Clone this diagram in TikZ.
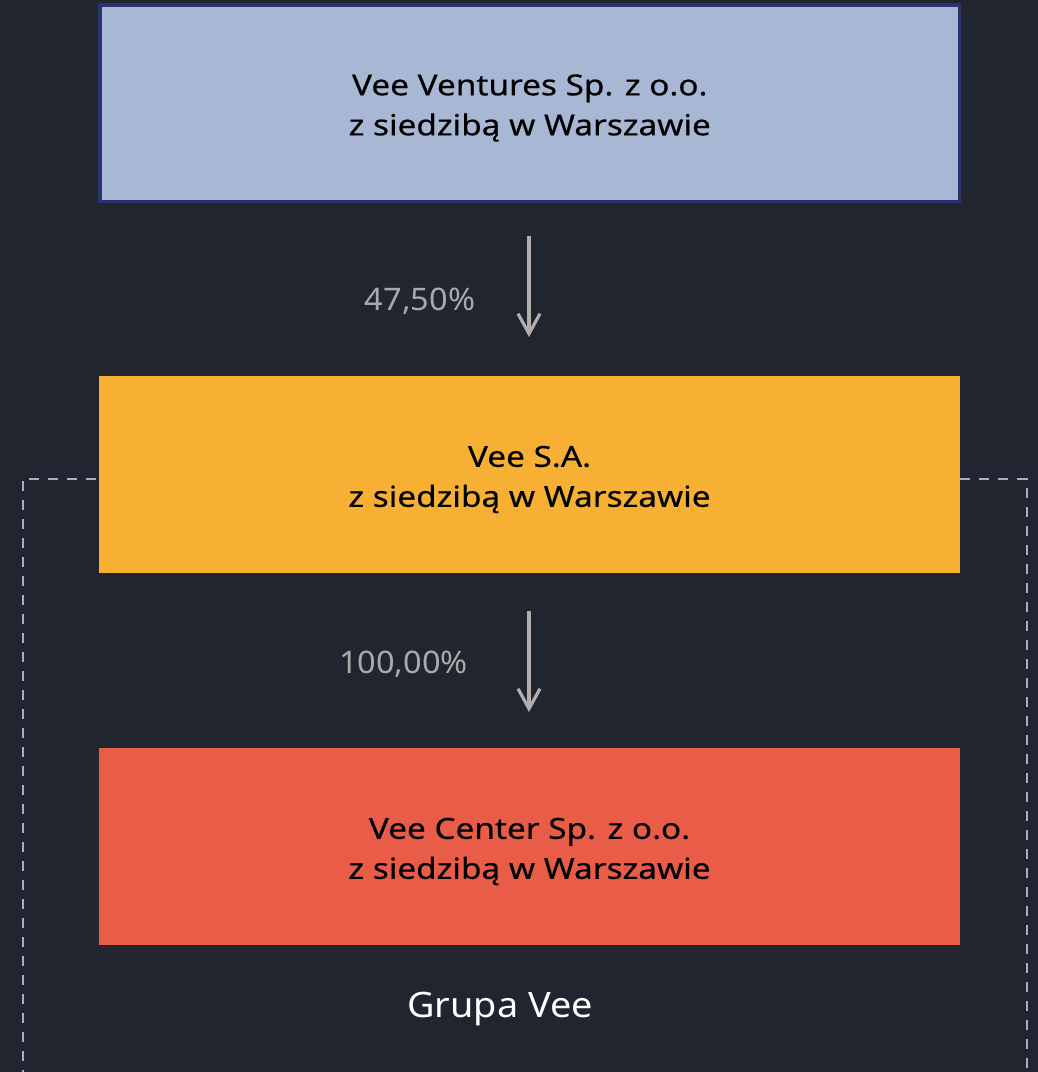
\documentclass[tikz,border=0pt]{standalone}
\usepackage{fontspec}
\setmainfont{Noto Sans}
\newfontfamily\boxfont{Noto Sans}[FakeStretch=1.15,FakeBold=0.4]
\newfontfamily\pctfont{Noto Sans}[FakeStretch=1.05]
\newfontfamily\grpfont{Noto Sans}[FakeStretch=1.08]
\usetikzlibrary{arrows.meta}
\definecolor{bgc}{HTML}{212530}
\definecolor{topfill}{HTML}{A8B8D4}
\definecolor{topborder}{HTML}{2B3270}
\definecolor{orangec}{HTML}{F7B034}
\definecolor{redc}{HTML}{E95C47}
\definecolor{arrowc}{HTML}{B3AEAE}
\definecolor{labelc}{HTML}{A9A9A9}
\definecolor{dashc}{HTML}{A0B0CC}
\tikzset{
  x=1pt, y=-1pt,
  entity/.style={rectangle, inner sep=0pt, minimum width=861pt, minimum height=197pt},
  entitytext/.style={align=center, text=black, inner sep=0pt, font=\boxfont\fontsize{29}{40}\selectfont},
  pct/.style={text=labelc, font=\pctfont\fontsize{31}{36}\selectfont, inner sep=0pt, anchor=base},
  own/.style={draw=arrowc, line width=3.2pt, -{Straight Barb[length=20pt,width=22pt,line width=3.2pt]}},
  groupline/.style={draw=dashc, line width=2pt, dash pattern=on 10pt off 9pt}
}
\begin{document}
\begin{tikzpicture}
\fill[bgc] (0,0) rectangle (1038,1072);
\useasboundingbox (0,0) rectangle (1038,1072);
% group frame
\coordinate (gbl) at (22.7,1080);
\coordinate (gtl) at (22.7,478.7);
\coordinate (gtr) at (1026.7,478.7);
\coordinate (gbr) at (1026.7,1080);
\draw[groupline] (gbl) -- (gtl) -- (gtr) -- (gbr);
% boxes
\node[entity, fill=topfill, draw=topborder, line width=3.5pt, minimum width=859.5pt, minimum height=196.5pt] (vv) at (529.75,103) {};
\node[entity, fill=orangec] (vsa) at (529.5,474.5) {};
\node[entity, fill=redc] (vc) at (529.5,846.5) {};
\node[entitytext] (vvt) at ([yshift=-5pt]vv.center) {Vee Ventures Sp. z o.o.\\z siedzibą w Warszawie};
\node[entitytext] (vsat) at ([yshift=-5pt]vsa.center) {Vee S.A.\\z siedzibą w Warszawie};
\node[entitytext] (vct) at ([yshift=-5pt]vc.center) {Vee Center Sp. z o.o.\\z siedzibą w Warszawie};
% arrows
\coordinate (a1s) at (529,236);
\coordinate (a1e) at (529,337);
\coordinate (a2s) at (529,611);
\coordinate (a2e) at (529,712);
\draw[own] (a1s) -- (a1e);
\draw[own] (a2s) -- (a2e);
\node[pct] (p1) at (420,310) {47,50\%};
\node[pct] (p2) at (403.5,673.3) {100,00\%};
\node[text=white, font=\grpfont\fontsize{35}{40}\selectfont, inner sep=0pt, anchor=base] (grp) at (500,1017.3) {Grupa Vee};
\end{tikzpicture}
\end{document}
